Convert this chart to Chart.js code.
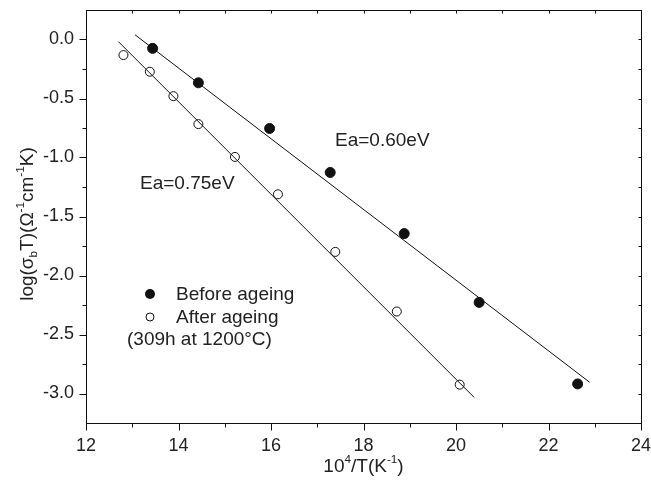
<!DOCTYPE html>
<html>
<head>
<meta charset="utf-8">
<script src="https://cdn.jsdelivr.net/npm/chart.js@4.4.1/dist/chart.umd.min.js"></script>
<style>
  html, body { margin: 0; padding: 0; background: #fff; }
  #wrap { width: 651px; height: 486px; }
</style>
</head>
<body>
<div id="wrap"><canvas id="c" width="651" height="486"></canvas></div>
<script>
// ---- data ----
const beforeX = [13.44, 14.43, 15.97, 17.28, 18.88, 20.50, 22.63];
const beforeY = [-0.075, -0.367, -0.754, -1.127, -1.645, -2.228, -2.919];
const afterX  = [12.81, 13.38, 13.89, 14.43, 15.22, 16.15, 17.39, 18.72, 20.08];
const afterY  = [-0.132, -0.273, -0.480, -0.717, -0.995, -1.312, -1.800, -2.305, -2.925];
// fitted lines (end points)
const fitBeforeX = [13.06, 22.89];
const fitBeforeY = [0.040, -2.905];
const fitAfterX  = [12.70, 20.39];
const fitAfterY  = [-0.018, -3.032];
// axes
const xMin = 12, xMax = 24;
const yMin = -3.25, yMax = 0.25;
const xMajorTicks = [12, 14, 16, 18, 20, 22, 24];
const xMinorTicks = [13, 15, 17, 19, 21, 23];
const yMajorTicks = [-3.0, -2.5, -2.0, -1.5, -1.0, -0.5, 0.0];
const yMinorTicks = [-3.25, -2.75, -2.25, -1.75, -1.25, -0.75, -0.25, 0.25];
// texts
const legendLabels = ["Before ageing", "After ageing", "(309h at 1200\u00B0C)"];
const annotBefore = "Ea=0.60eV";
const annotAfter = "Ea=0.75eV";

const FONT = '"Liberation Sans", Arial, sans-serif';
const INK = '#222';

function pts(xs, ys) { return xs.map((x, i) => ({ x: x, y: ys[i] })); }

function richWidth(ctx, parts, size) {
  let w = 0;
  for (const p of parts) {
    const s = (p.sup || p.sub) ? size * 0.62 : size;
    ctx.font = s + 'px ' + FONT;
    w += ctx.measureText(p.t).width;
  }
  return w;
}
function drawRich(ctx, parts, x, y, size) {
  let cx = x;
  ctx.textBaseline = 'middle';
  ctx.textAlign = 'left';
  for (const p of parts) {
    const s = (p.sup || p.sub) ? size * 0.62 : size;
    ctx.font = s + 'px ' + FONT;
    let dy = 0;
    if (p.sup) dy = -size * 0.38;
    if (p.sub) dy = size * 0.30;
    ctx.fillText(p.t, cx, y + dy);
    cx += ctx.measureText(p.t).width;
  }
}

const decor = {
  id: 'decor',
  afterDraw(chart) {
    const ctx = chart.ctx;
    const a = chart.chartArea;
    const xs = chart.scales.x, ys = chart.scales.y;
    ctx.save();
    ctx.strokeStyle = '#111';
    ctx.lineWidth = 1;
    ctx.strokeRect(Math.round(a.left) + 0.5, Math.round(a.top) + 0.5,
                   Math.round(a.right - a.left), Math.round(a.bottom - a.top));
    ctx.beginPath();
    const bx = Math.round(a.bottom) + 0.5, ty = Math.round(a.top) + 0.5;
    const lx = Math.round(a.left) + 0.5, rx = Math.round(a.right) + 0.5;
    for (const v of xMajorTicks) {
      const p = Math.round(xs.getPixelForValue(v)) + 0.5;
      ctx.moveTo(p, bx); ctx.lineTo(p, bx + 7);
      ctx.moveTo(p, ty); ctx.lineTo(p, ty + 3);
    }
    for (const v of xMinorTicks) {
      const p = Math.round(xs.getPixelForValue(v)) + 0.5;
      ctx.moveTo(p, bx); ctx.lineTo(p, bx + 4);
      ctx.moveTo(p, ty); ctx.lineTo(p, ty + 3);
    }
    for (const v of yMajorTicks) {
      const p = Math.round(ys.getPixelForValue(v)) + 0.5;
      ctx.moveTo(lx, p); ctx.lineTo(lx - 7, p);
      ctx.moveTo(rx, p); ctx.lineTo(rx - 3, p);
    }
    for (const v of yMinorTicks) {
      if (v <= yMin || v >= yMax) continue;
      const p = Math.round(ys.getPixelForValue(v)) + 0.5;
      ctx.moveTo(lx, p); ctx.lineTo(lx - 4, p);
      ctx.moveTo(rx, p); ctx.lineTo(rx - 3, p);
    }
    ctx.stroke();

    ctx.fillStyle = INK;
    ctx.font = '19px ' + FONT;
    ctx.textBaseline = 'middle';
    ctx.textAlign = 'left';
    ctx.fillText(annotBefore, 335, 141);
    ctx.fillText(annotAfter, 140, 184);

    ctx.beginPath();
    ctx.arc(150, 294, 5, 0, Math.PI * 2);
    ctx.fillStyle = '#111';
    ctx.fill();
    ctx.beginPath();
    ctx.arc(150, 317, 4, 0, Math.PI * 2);
    ctx.fillStyle = '#fff';
    ctx.fill();
    ctx.strokeStyle = '#111';
    ctx.stroke();
    ctx.fillStyle = INK;
    ctx.font = '19px ' + FONT;
    ctx.fillText(legendLabels[0], 176, 295);
    ctx.fillText(legendLabels[1], 176, 318);
    ctx.fillText(legendLabels[2], 127, 340);

    const size = 19;
    const xt = [{t: '10'}, {t: '4', sup: true}, {t: '/T(K'}, {t: '-1', sup: true}, {t: ')'}];
    const wx = richWidth(ctx, xt, size);
    drawRich(ctx, xt, (a.left + a.right) / 2 - wx / 2, 467, size);

    const yt = [{t: 'log(\u03C3'}, {t: 'b', sub: true}, {t: 'T)(\u03A9'}, {t: '-1', sup: true},
                {t: 'cm'}, {t: '-1', sup: true}, {t: 'K)'}];
    const wy = richWidth(ctx, yt, size);
    ctx.translate(28, 224);
    ctx.rotate(-Math.PI / 2);
    drawRich(ctx, yt, -wy / 2, 0, size);
    ctx.restore();
  }
};

const cfg = {
  type: 'scatter',
  data: {
    datasets: [
      { label: 'fitBefore', type: 'line', data: pts(fitBeforeX, fitBeforeY),
        borderColor: '#111', borderWidth: 1, pointRadius: 0, fill: false, tension: 0 },
      { label: 'fitAfter', type: 'line', data: pts(fitAfterX, fitAfterY),
        borderColor: '#111', borderWidth: 1, pointRadius: 0, fill: false, tension: 0 },
      { label: legendLabels[0], data: pts(beforeX, beforeY),
        pointStyle: 'circle', pointRadius: 5, backgroundColor: '#111', borderColor: '#111', borderWidth: 1 },
      { label: legendLabels[1], data: pts(afterX, afterY),
        pointStyle: 'circle', pointRadius: 4.5, backgroundColor: '#fff', borderColor: '#111', borderWidth: 1 }
    ]
  },
  options: {
    responsive: false,
    animation: false,
    layout: { padding: { top: 10, right: 10, left: 0, bottom: 0 } },
    plugins: { legend: { display: false }, tooltip: { enabled: false } },
    scales: {
      x: {
        type: 'linear', min: xMin, max: xMax,
        afterBuildTicks: s => { s.ticks = xMajorTicks.map(v => ({ value: v })); },
        afterFit: s => { s.height = 63; s.paddingLeft = 0; s.paddingRight = 0; },
        grid: { display: false, drawTicks: false },
        border: { display: false },
        ticks: { padding: 12, color: INK, font: { family: FONT, size: 18 }, maxRotation: 0,
                 callback: v => String(v) },
        title: { display: false }
      },
      y: {
        type: 'linear', min: yMin, max: yMax,
        afterBuildTicks: s => { s.ticks = yMajorTicks.map(v => ({ value: v })); },
        afterFit: s => { s.width = 86; s.paddingTop = 0; s.paddingBottom = 0; },
        grid: { display: false, drawTicks: false },
        border: { display: false },
        ticks: { padding: 12, color: INK, font: { family: FONT, size: 18 },
                 callback: v => Number(v).toFixed(1) },
        title: { display: false }
      }
    }
  },
  plugins: [decor]
};
new Chart(document.getElementById('c'), cfg);
</script>
</body>
</html>
